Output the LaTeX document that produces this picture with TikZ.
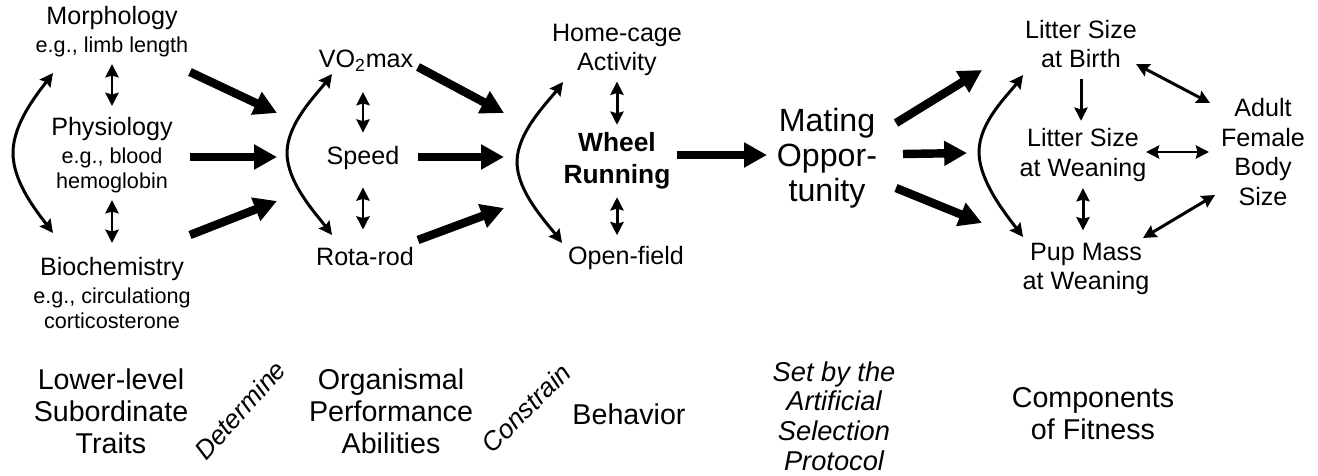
\documentclass[tikz,border=0pt]{standalone}
\usepackage{fontspec}
\setmainfont{Liberation Sans}
\usetikzlibrary{arrows.meta, calc}
\newcommand{\egsz}{\fontsize{12.3}{14.2}\selectfont}

\begin{document}
\begin{tikzpicture}[x=0.02cm, y=-0.02cm,
  txt/.style = {inner sep=0pt, align=center, font=\fontsize{14.3}{16.8}\selectfont},
  big/.style = {inner sep=0pt, align=center, font=\fontsize{16.3}{18.1}\selectfont},
  slant/.style = {inner sep=0pt, font=\fontsize{15}{17}\selectfont\itshape},
  fat/.style = {line width=4.8pt, -{Triangle[length=13pt, width=13.5pt]}},
  dbl/.style = {line width=1.7pt, {Stealth[length=7.5pt, width=7.5pt, inset=1pt]}-{Stealth[length=7.5pt, width=7.5pt, inset=1pt]}},
  one/.style = {line width=1.7pt, -{Stealth[length=7.5pt, width=7.5pt, inset=1pt]}}]
\useasboundingbox (0,0) rectangle (1318,476);

% lower-level traits
\node[txt] (morph) at (112,32) {Morphology\\[-0.9pt]\egsz e.g., limb length};
\node[txt] (phys) at (112,155) {Physiology\\[-0.9pt]\egsz e.g., blood\\[-2.6pt]\egsz hemoglobin};
\node[txt] (bio) at (112,293) {Biochemistry\\[-0.9pt]\egsz e.g., circulationg\\[-2.6pt]\egsz corticosterone};
\draw[dbl, shorten <=3.7pt, shorten >=6.2pt] (morph) -- (phys);
\draw[dbl, shorten <=4pt, shorten >=8pt] (phys) -- (bio);
\draw[dbl] ($(morph)+(-59,41)$) .. controls +(-15,20) and +(0,-30) .. ($(phys)+(-99,-2)$) .. controls +(0,30) and +(-15,-20) .. ($(bio)+(-59,-60)$);

% performance abilities
\node[txt] (vo2) at (366,61) {VO\textsubscript{2}max};
\node[txt] (speed) at (363,158) {Speed};
\node[txt] (rota) at (365,257) {Rota-rod};
\draw[dbl, shorten <=11.4pt, shorten >=7.6pt] (speed.north |- vo2.south) -- (speed.north);
\draw[dbl, shorten <=9.9pt, shorten >=10.2pt] (speed.south) -- (speed.south |- rota.north);
\draw[dbl] ($(vo2)+(-34,13)$) .. controls +(-15,20) and +(0,-30) .. ($(speed)+(-76,-5)$) .. controls +(0,30) and +(-15,-20) .. ($(rota)+(-33,-22)$);
\draw[fat] ($(morph)+(78,40)$) -- ($(speed)+(-86,-45)$);
\draw[fat] ($(phys)+(78,2)$) -- ($(speed)+(-86,-1)$);
\draw[fat] ($(bio)+(78,-58)$) -- ($(speed)+(-86,43)$);

% behavior
\node[txt] (home) at (617,50) {Home-cage\\Activity};
\node[txt, font=\fontsize{15}{18}\selectfont\bfseries] (wheel) at (617,161) {Wheel\\Running};
\node[txt] (open) at (626,258) {Open-field};
\draw[dbl, shorten <=3pt, shorten >=4.4pt] (home) -- (wheel);
\draw[dbl, shorten <=4.4pt, shorten >=6.1pt] (wheel.south) -- (wheel.south |- open.north);
\draw[dbl] ($(home)+(-54,32)$) .. controls +(-15,20) and +(0,-30) .. ($(wheel)+(-100,1)$) .. controls +(0,30) and +(-15,-20) .. ($(open)+(-64,-15)$);
\draw[fat] ($(vo2)+(52,6)$) -- ($(wheel)+(-113,-48)$);
\draw[fat] ($(speed)+(55,-1)$) -- ($(wheel)+(-113,-4)$);
\draw[fat] ($(rota)+(53,-17)$) -- ($(wheel)+(-113,47)$);

% mating opportunity
\node[txt, font=\fontsize{18.3}{19.8}\selectfont] (mating) at (827,158) {Mating\\Oppor-\\tunity};
\draw[fat] ($(wheel)+(60,-6)$) -- ($(mating)+(-60,-3)$);

% components of fitness
\node[txt] (lsb) at (1081,44) {Litter Size\\at Birth};
\node[txt] (lsw) at (1083,155) {Litter Size\\at Weaning};
\node[txt] (pup) at (1086,269) {Pup Mass\\at Weaning};
\node[txt] (adult) at (1263,152) {Adult\\Female\\Body\\Size};
\draw[one, shorten <=6.2pt, shorten >=4.2pt] (lsb.south) -- (lsb.south |- lsw.north);
\draw[dbl, shorten <=3.6pt, shorten >=7pt] (lsw.south) -- (lsw.south |- pup.north);
\draw[dbl] ($(lsb)+(55,20)$) -- ($(adult)+(-53,-49)$);
\draw[dbl] ($(lsw)+(63,-3)$) -- ($(adult)+(-54,0)$);
\draw[dbl] ($(pup)+(57,-31)$) -- ($(adult)+(-48,43)$);
\draw[dbl] ($(lsb)+(-58,31)$) .. controls +(-15,20) and +(0,-30) .. ($(lsw)+(-104,-3)$) .. controls +(0,30) and +(-15,-20) .. ($(pup)+(-63,-32)$);
\draw[fat] ($(mating)+(69,-35)$) -- ($(lsw)+(-101,-85)$);
\draw[fat] ($(mating)+(76,-4)$) -- ($(lsw)+(-116,-2)$);
\draw[fat] ($(mating)+(69,30)$) -- ($(lsw)+(-101,68)$);

% level captions
\node[big] (lower) at (111,411) {Lower-level\\Subordinate\\Traits};
\node[slant, rotate=48] (determ) at (240,410) {Determine};
\node[big] (organ) at (391,411) {Organismal\\Performance\\Abilities};
\node[slant, rotate=45] (constr) at (526,408) {Constrain};
\node[big] (behav) at (629,414) {Behavior};
\node[big, font=\fontsize{15.5}{16.8}\selectfont\itshape] (setby) at (834,416) {Set by the\\Artificial\\Selection\\Protocol};
\node[big] (comp) at (1093,414) {Components\\of Fitness};
\end{tikzpicture}
\end{document}
